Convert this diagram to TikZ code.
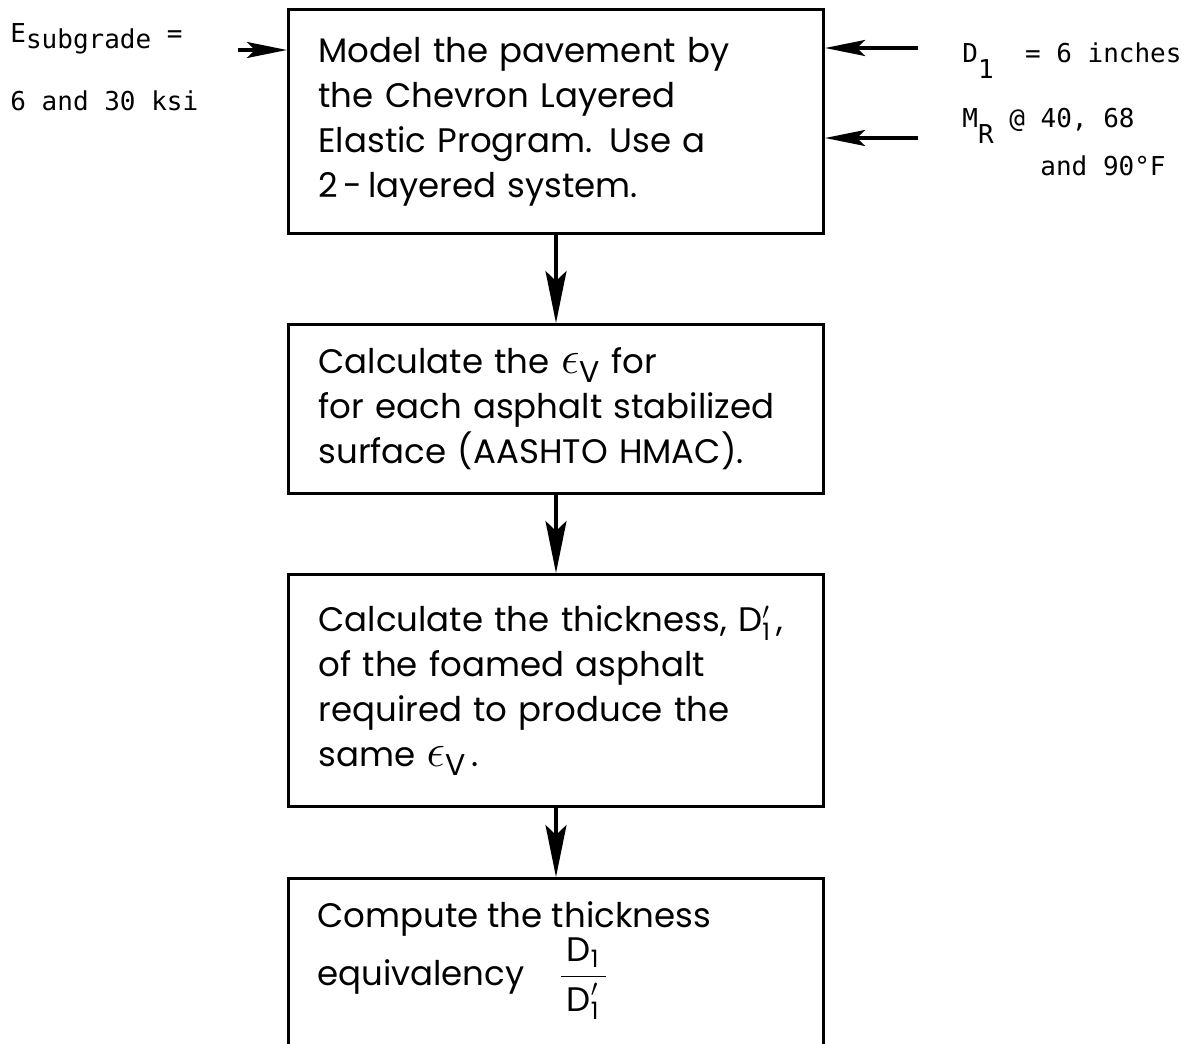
\documentclass[tikz,border=0pt]{standalone}
\usepackage{fontspec}
\setmainfont{Poppins}
\setmonofont{DejaVu Sans Mono}
\usetikzlibrary{arrows.meta,positioning}

\newcommand{\lowsub}[1]{\raisebox{-0.45ex}{\fontsize{15}{15}\selectfont #1}}
\newcommand{\strainv}{\scalebox{1.35}{$\epsilon$}\lowsub{V}}
\newcommand{\one}{\mbox{\fontsize{12}{12}\selectfont 1}}

\begin{document}
\begin{tikzpicture}[
        x=0.5pt, y=-0.5pt,
        every node/.style={font=\fontsize{17}{22.5}\selectfont},
        stepbox/.style={draw, line width=1.6pt, minimum width=267.5pt, text width=237.5pt, inner xsep=15pt, align=left},
        flow/.style={-{Stealth[length=26pt, width=10.5pt, inset=5pt]}, line width=1.6pt},
        feed/.style={-{Stealth[length=20pt, width=8pt, inset=4pt]}, line width=1.6pt},
        side/.style={font=\ttfamily\fontsize{13}{16}\selectfont, anchor=base west, inner sep=0pt},
    ]
    \useasboundingbox (0,0) rectangle (1196,1044);

    \node[stepbox, anchor=north, minimum height=112pt] (model) at (556,8)
        {Model the pavement by\\the Chevron Layered\\Elastic Program. Use a\\2\,-\,layered system.};
    \node[stepbox, anchor=north, minimum height=84.5pt] (strain) at (556,323)
        {Calculate the \strainv{} for\\for each asphalt stabilized\\surface (AASHTO HMAC).};
    \node[stepbox, anchor=north, minimum height=116pt] (thick) at (556,573)
        {Calculate the thickness, D$'_{\one}$\,,\\of the foamed asphalt\\required to produce the\\same \strainv\,.};
    \node[stepbox, anchor=north, minimum height=110pt] (equiv) at (556,877) {};
    \node[anchor=north west, inner sep=0pt, align=left] (equivtext) at ([xshift=15pt, yshift=-12pt]equiv.north west)
        {Compute the thickness\\equivalency\quad$\displaystyle\frac{\hspace{3pt}\mbox{D}_{\one}\rule[-4pt]{0pt}{4pt}\hspace{3pt}}{\rule{0pt}{16pt}\mbox{D}'_{\one}}$};

    \draw[flow] (model) -- (strain);
    \draw[flow] (strain) -- (thick);
    \draw[flow] (thick) -- (equiv);

    % Inputs
    \node[side] (esub) at (10,42) {E\raisebox{-3pt}{subgrade} =};
    \node[side] (ksi) at (10,110) {6 and 30 ksi};
    \node[side] (dthk) at (962,62) {D\raisebox{-8pt}{1}\ \ = 6 inches};
    \node[side] (mr) at (962,127) {M\raisebox{-8pt}{R} @ 40, 68};
    \node[side] (temps) at (1040,175) {and 90\textdegree F};

    \coordinate (efrom) at (238,50);
    \coordinate (dfrom) at (918,48);
    \coordinate (mfrom) at (918,138);
    \draw[feed] (efrom) -- (efrom -| model.west);
    \draw[feed] (dfrom) -- (dfrom -| model.east);
    \draw[feed] (mfrom) -- (mfrom -| model.east);
\end{tikzpicture}
\end{document}
